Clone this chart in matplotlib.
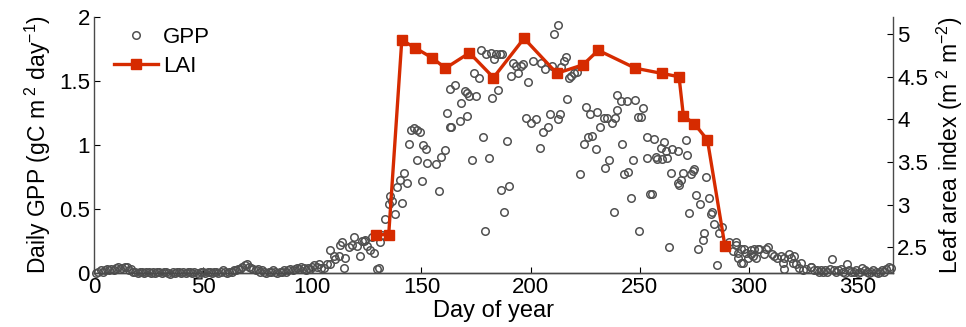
import numpy as np
import matplotlib
matplotlib.use("Agg")
import matplotlib.pyplot as plt
from matplotlib.lines import Line2D

plt.rcParams['font.family'] = ['Liberation Sans', 'DejaVu Sans']
plt.rcParams['mathtext.fontset'] = 'custom'
plt.rcParams['mathtext.rm'] = 'Liberation Sans'
plt.rcParams['mathtext.it'] = 'Liberation Sans'

# daily GPP, winter baseline (day 1..104)
early_day = np.arange(1, 105)
early_gpp = [
    0.00, 0.01, 0.02, 0.01, 0.02, 0.03, 0.02, 0.03, 0.02, 0.04,
    0.05, 0.03, 0.04, 0.05, 0.05, 0.02, 0.03, 0.01, 0.01, 0.00,
    0.01, 0.01, 0.00, 0.01, 0.01, 0.00, 0.01, 0.00, 0.01, 0.01,
    0.00, 0.01, 0.01, 0.00, -0.01, 0.01, 0.00, 0.01, 0.01, 0.00,
    0.01, 0.00, 0.01, 0.01, 0.00, 0.01, 0.00, -0.01, 0.01, 0.01,
    0.00, 0.01, 0.01, 0.00, 0.01, 0.01, 0.00, 0.01, 0.02, 0.01,
    0.00, 0.01, 0.01, 0.02, 0.02, 0.03, 0.03, 0.05, 0.06, 0.07,
    0.05, 0.04, 0.03, 0.02, 0.03, 0.01, 0.02, 0.01, 0.00, 0.01,
    0.01, 0.02, 0.01, 0.00, 0.01, 0.01, 0.02, 0.01, 0.02, 0.03,
    0.02, 0.03, 0.04, 0.03, 0.05, 0.04, 0.02, 0.04, 0.03, 0.05,
    0.06, 0.05, 0.07, 0.04]

# growing season GPP
mid_day = [
    105.2, 106.8, 108.3, 108.3, 109.8, 110.6, 112.1, 112.8, 113.6, 114.4,
    115.2, 116.7, 118.2, 119.0, 120.5, 122.0, 122.8, 123.5, 124.3, 125.1,
    126.6, 127.4, 128.1, 129.7, 130.5, 131.2, 132.0, 133.5, 135.0, 135.8,
    136.6, 138.1, 138.9, 140.4, 141.2, 141.9, 143.5, 144.2, 145.0, 146.5,
    148.0, 149.3, 148.0, 150.3, 150.8, 152.3, 152.6, 156.5, 158.0, 159.1,
    161.0, 161.8, 163.6, 163.3, 163.3, 165.6, 167.5, 167.9, 169.8, 171.0,
    171.0, 172.0, 173.3, 174.0, 175.1, 176.3, 177.1, 178.3, 178.9, 179.4,
    180.9, 181.7, 182.4, 183.2, 184.0, 185.0, 186.3, 186.2, 187.0, 187.8,
    189.0, 190.1, 190.9, 192.1, 193.1, 194.2, 195.4, 196.7, 197.7, 198.8,
    200.3, 202.3, 201.1, 204.2, 204.6, 205.8, 206.5, 208.1, 208.9, 210.0,
    210.7, 212.6, 212.7, 213.5, 214.1, 215.3, 216.1, 216.9, 217.6, 218.7,
    219.9, 221.4, 222.7, 224.5, 225.6, 226.3, 227.2, 228.3, 229.8, 230.6,
    231.8, 233.4, 234.9, 234.1, 235.9, 237.2, 238.6, 239.5, 239.8, 238.3,
    241.3, 242.1, 242.8, 244.1, 244.7, 245.9, 247.0, 247.7, 249.0, 249.7,
    250.8, 251.7, 253.2, 253.2, 254.8, 255.8, 256.6, 257.3, 258.1, 259.6,
    260.4, 261.2, 262.0, 262.7, 263.5, 264.2, 265.0, 267.3, 267.3, 268.0,
    268.8, 269.6, 271.1, 271.8, 272.6, 273.4, 274.2, 274.9, 275.7, 276.5,
    277.5, 278.8, 279.5, 280.3, 281.8, 282.6, 283.3, 284.1, 285.6, 286.4,
    287.9, 291.0, 292.5, 294.0, 294.1, 294.8, 294.8, 296.3, 296.3, 297.2,
    297.9, 298.6, 299.4, 300.9, 301.0, 301.7, 302.4, 303.2, 304.0, 304.7,
    307.0, 307.8, 308.6, 310.8, 311.7, 313.1, 314.7, 315.5, 316.2, 316.3,
    318.5, 319.3, 320.0, 320.8, 321.6, 323.1, 323.9, 324.6, 326.1, 328.4,
    328.5, 330.0]
mid_gpp = [
    0.04, 0.07, 0.18, 0.07, 0.13, 0.11, 0.13, 0.22, 0.24, 0.04,
    0.12, 0.20, 0.22, 0.28, 0.21, 0.13, 0.25, 0.25, 0.26, 0.21,
    0.18, 0.28, 0.16, 0.03, 0.04, 0.24, 0.30, 0.42, 0.54, 0.60,
    0.56, 0.46, 0.67, 0.73, 0.55, 0.78, 0.70, 1.01, 1.12, 1.13,
    1.12, 1.10, 0.88, 0.72, 1.00, 0.97, 0.86, 0.85, 0.64, 0.91,
    0.96, 1.25, 1.14, 1.44, 1.14, 1.47, 1.19, 1.33, 1.42, 1.23,
    1.41, 1.38, 0.88, 1.56, 1.38, 1.52, 1.74, 1.06, 0.33, 1.71,
    0.90, 1.72, 1.37, 1.67, 1.71, 1.43, 0.65, 1.71, 1.71, 0.48,
    1.03, 0.68, 1.54, 1.64, 1.62, 1.56, 1.62, 1.63, 1.21, 1.49,
    1.17, 1.20, 1.66, 0.98, 1.64, 1.10, 1.59, 1.14, 1.24, 1.62,
    1.87, 1.20, 1.94, 1.24, 1.61, 1.66, 1.69, 1.36, 1.52, 1.54,
    1.56, 1.57, 0.77, 1.01, 1.30, 1.06, 1.24, 1.07, 0.97, 1.26,
    1.14, 1.21, 1.21, 0.82, 0.88, 1.17, 1.21, 1.27, 1.39, 0.48,
    1.34, 1.01, 0.77, 1.34, 0.79, 0.59, 0.88, 1.35, 1.22, 0.33,
    1.22, 1.29, 1.06, 0.90, 0.62, 0.62, 1.05, 0.91, 0.89, 0.98,
    0.89, 1.02, 0.95, 0.90, 0.20, 0.78, 0.97, 0.95, 0.70, 0.69,
    0.73, 0.78, 1.04, 0.92, 0.47, 0.77, 0.80, 0.81, 0.61, 0.19,
    0.54, 0.26, 0.31, 0.75, 0.59, 0.46, 0.48, 0.38, 0.06, 0.31,
    0.36, 0.24, 0.17, 0.24, 0.22, 0.12, 0.16, 0.19, 0.08, 0.08,
    0.19, 0.16, 0.12, 0.18, 0.15, 0.13, 0.19, 0.12, 0.19, 0.19,
    0.15, 0.19, 0.20, 0.15, 0.13, 0.12, 0.13, 0.08, 0.03, 0.12,
    0.15, 0.12, 0.08, 0.13, 0.07, 0.04, 0.08, 0.02, 0.03, 0.05,
    0.05, 0.02]

# late autumn baseline (day 331..365)
late_day = np.arange(331, 366)
late_gpp = [
    0.02, 0.01, 0.02, 0.01, 0.02, 0.01, 0.03, 0.11, 0.02, 0.01,
    0.02, 0.03, 0.01, 0.00, 0.07, 0.02, 0.01, 0.01, 0.02, 0.00,
    0.01, 0.04, 0.02, 0.01, 0.00, 0.01, 0.02, 0.01, 0.00, 0.01,
    0.02, 0.01, 0.03, 0.05, 0.04]

# leaf area index
lai_day = [129, 135, 141, 147, 155, 161, 172, 183, 197, 212,
           224, 231, 248, 260, 268, 270, 275, 281, 289]
lai_val = [2.65, 2.65, 4.93, 4.84, 4.72, 4.60, 4.78, 4.49, 4.95, 4.54,
           4.64, 4.81, 4.60, 4.54, 4.50, 4.04, 3.95, 3.76, 2.52]

gpp_day = np.concatenate([early_day, mid_day, late_day])
gpp_val = np.concatenate([early_gpp, mid_gpp, late_gpp])

red = '#d62b00'
grey = '#505050'

fig = plt.figure(figsize=(9.66, 3.27), dpi=100)
ax = fig.add_axes([0.0973, 0.165, 0.8271, 0.783])
ax2 = ax.twinx()

ax.plot(gpp_day, gpp_val, 'o', ms=5.4, mfc='none', mec=grey, mew=1.1, clip_on=False)
ax2.plot(lai_day, lai_val, '-s', color=red, lw=2.4, ms=7.5, mec=red)

ax.set_xlim(0, 366)
ax.set_ylim(0, 2)
ax2.set_ylim(2.2, 5.2)
ax.set_xticks(np.arange(0, 351, 50))
ax.set_yticks([0, 0.5, 1, 1.5, 2])
ax.set_yticklabels(['0', '0.5', '1', '1.5', '2'])
ax2.set_yticks([2.5, 3, 3.5, 4, 4.5, 5])
ax2.set_yticklabels(['2.5', '3', '3.5', '4', '4.5', '5'])

for a in (ax, ax2):
    a.spines['top'].set_visible(False)
    for s in a.spines.values():
        s.set_color('#4a4a4a')
        s.set_linewidth(1.0)
    a.tick_params(direction='in', length=4, width=0.8, labelsize=16, pad=3, colors='black')
ax.spines['right'].set_visible(False)
ax2.spines['left'].set_visible(False)

ax.set_xlabel('Day of year', fontsize=17, labelpad=1)
ax.set_ylabel(r'Daily GPP (gC m$^{\ 2}$ day$^{-1}$)', fontsize=16.5, labelpad=4)
ax2.set_ylabel(r'Leaf area index (m$^{\ 2}$ m$^{-2}$)', fontsize=16.5, labelpad=5)

handles = [Line2D([], [], ls='none', marker='o', ms=5.4, mfc='none', mec=grey, mew=1.1),
           Line2D([], [], color=red, lw=2.4, marker='s', ms=7.5)]
ax.legend(handles, ['GPP', 'LAI'], loc='upper left', bbox_to_anchor=(0.0, 1.04),
          frameon=False, fontsize=16, handlelength=2.0, handletextpad=0.2,
          labelspacing=0.35)

fig.savefig('out.png', dpi=100)
